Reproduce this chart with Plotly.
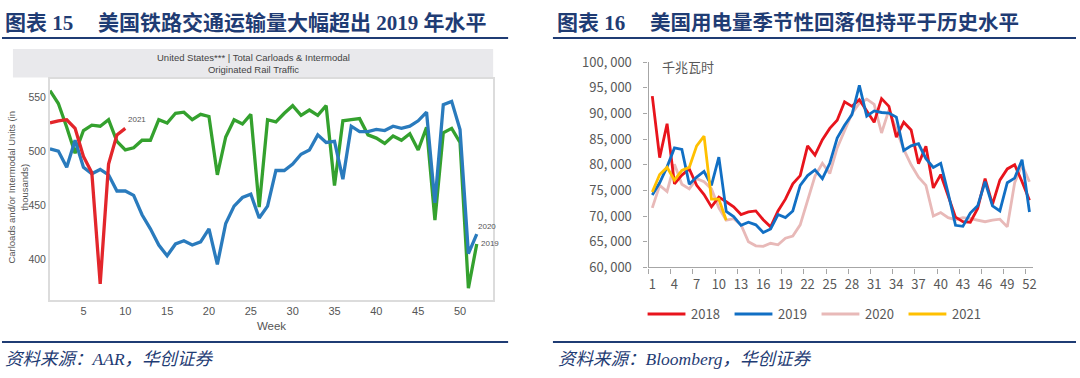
import plotly.graph_objects as go

# ---------------- data: left chart (AAR originated rail traffic, thousands) ----------------
rail_weeks = list(range(1, 53))
rail_2019 = [556, 544, 522, 498, 519, 524, 523, 529, 509, 501,
             503, 510, 510, 529, 526, 535, 536, 529, 534, 532,
             478, 513, 529, 525, 534, 448, 529, 527, 535, 542,
             533, 538, 533, 542, 468, 528, 529, 530, 515, 512,
             507, 514, 510, 516, 501, 522, 436, 517, 521, 508,
             373, 414]
rail_2020 = [502, 500, 485, 510, 485, 479, 483, 478, 463, 463,
             459, 441, 428, 413, 403, 414, 417, 413, 416, 428,
             395, 433, 449, 457, 460, 438, 449, 482, 482, 488,
             497, 501, 515, 508, 509, 474, 523, 518, 518, 520,
             519, 523, 521, 523, 528, 536, 452, 543, 546, 520,
             405, 423]
rail_weeks_2021 = list(range(1, 11))
rail_2021 = [526, 528, 529, 521, 495, 480, 377, 488, 515, 521]
rail_x_ticks = [5, 10, 15, 20, 25, 30, 35, 40, 45, 50]
rail_y_ticks = [400, 450, 500, 550]

# ---------------- data: right chart (US electricity output, GWh) ----------------
power_weeks = list(range(1, 53))
power_2018 = [93400, 81400, 88000, 76300, 78000, 79200, 76000, 74200, 71800, 73700,
              72800, 71800, 70300, 70800, 71000, 69300, 67900, 71000, 73300, 76300,
              77900, 83700, 81900, 84900, 87100, 88700, 92300, 91400, 92700, 90500,
              88300, 92900, 91400, 85400, 88300, 86800, 80200, 83600, 75500, 78100,
              74000, 69800, 68900, 68800, 71500, 77300, 72300, 77000, 79200, 80000,
              76700, 73100]
power_2019 = [74100, 76500, 79600, 83300, 83000, 76200, 77600, 78700, 76000, 81500,
              70900, 69900, 68200, 68800, 68300, 66800, 67500, 70300, 69700, 71000,
              76000, 77900, 79000, 77300, 80300, 85200, 87700, 89800, 95500, 89500,
              90500, 90200, 90100, 89300, 82800, 83700, 84100, 81200, 79500, 80300,
              74500, 68200, 68000, 70600, 72000, 76700, 72000, 71000, 76500, 77400,
              81000, 70800]
power_2020 = [71600, 76000, 74800, 80100, 76200, 75300, 77300, 76700, 75300, 71600,
              69200, 69500, 68300, 65000, 64200, 64100, 64700, 64400, 65700, 66100,
              68300, 73000, 77800, 80300, 78300, 83300, 86800, 90000, 92000, 92800,
              91800, 86200, 90700, 86800, 83000, 80000, 77600, 76000, 70000, 70700,
              69700, 69300, 69700, 69500, 69200, 68900, 69200, 69400, 67900, 76500,
              80000, 76700]
power_weeks_2021 = list(range(1, 12))
power_2021 = [74700, 78100, 79500, 77000, 78900, 79500, 83700, 85600, 73300, 73300, 69200]
power_x_ticks = list(range(1, 53, 3))
power_y_ticks = [60000, 65000, 70000, 75000, 80000, 85000, 90000, 95000, 100000]
power_names = ["2018", "2019", "2020", "2021"]

# ---------------- styling ----------------
W, H = 1080, 378
def px(x):
    return x / W
def py(y):
    return 1 - y / H

NAVY = "#1f3c74"
GREEN, BLUE_L, RED_L = "#34a12e", "#2a7bbd", "#e3262b"
C2018, C2019, C2020, C2021 = "#e8141c", "#116fc4", "#e8b9b8", "#ffc000"
GREY_TXT = "#595959"
NARROW = "Liberation Sans Narrow, Liberation Sans, Arial Narrow, sans-serif"
CJK = "Noto Sans CJK SC, Noto Sans, sans-serif"
TITLE_FONT = "Liberation Serif, Noto Sans CJK SC, serif"

fig = go.Figure()

# left chart traces
fig.add_trace(go.Scatter(x=rail_weeks, y=rail_2019, mode="lines",
                         line=dict(color=GREEN, width=3.3), xaxis="x", yaxis="y"))
fig.add_trace(go.Scatter(x=rail_weeks, y=rail_2020, mode="lines",
                         line=dict(color=BLUE_L, width=3.3), xaxis="x", yaxis="y"))
fig.add_trace(go.Scatter(x=rail_weeks_2021, y=rail_2021, mode="lines",
                         line=dict(color=RED_L, width=3.3), xaxis="x", yaxis="y"))

# right chart traces
power_series = [power_2018, power_2019, power_2020, power_2021]
power_xs = [power_weeks, power_weeks, power_weeks, power_weeks_2021]
power_colors = [C2018, C2019, C2020, C2021]
draw_order = [2, 0, 1, 3]
for i in draw_order:
    fig.add_trace(go.Scatter(x=power_xs[i], y=power_series[i], mode="lines", name=power_names[i],
                             line=dict(color=power_colors[i], width=2.8), xaxis="x2", yaxis="y2"))

fig.update_layout(
    width=W, height=H, margin=dict(l=0, r=0, t=0, b=0),
    paper_bgcolor="white", plot_bgcolor="white", showlegend=False,
    xaxis=dict(domain=[px(50), px(495)], range=[0.98, 53.96], anchor="y",
               tickvals=rail_x_ticks, ticks="", showgrid=False, zeroline=False,
               showline=True, mirror=True, linecolor="#dcdcdc", linewidth=1.5,
               tickfont=dict(family=NARROW, size=11, color="#555555"),
               title=dict(text="Week", font=dict(family=NARROW, size=11.5, color="#555555"), standoff=6)),
    yaxis=dict(domain=[py(305), py(73)], range=[362.4, 566.4], anchor="x",
               tickvals=rail_y_ticks, ticks="", showgrid=False, zeroline=False,
               showline=True, mirror=True, linecolor="#dcdcdc", linewidth=1.5,
               tickfont=dict(family=NARROW, size=10.5, color="#555555")),
    xaxis2=dict(domain=[px(651), px(1037)], range=[0.5, 52.5], anchor="y2",
                tickvals=power_x_ticks, ticks="", showgrid=False, zeroline=False,
                showline=True, linecolor="#a6a6a6", linewidth=1.3,
                minor=dict(tick0=0.5, dtick=3, ticks="outside", ticklen=5, tickcolor="#a6a6a6", tickwidth=1.3),
                ticklabelstandoff=5,
                tickfont=dict(family=CJK, size=13, color=GREY_TXT)),
    yaxis2=dict(domain=[py(271), py(55)], range=[60000, 100000], anchor="x2",
                tickvals=power_y_ticks,
                ticktext=[f"{v:,}".replace(",", ", ") for v in power_y_ticks],
                ticks="outside", ticklen=4, tickcolor="#a6a6a6", tickwidth=1.3,
                showgrid=False, zeroline=False, showline=True, linecolor="#a6a6a6", linewidth=1.3,
                ticklabelstandoff=9,
                tickfont=dict(family=CJK, size=13, color=GREY_TXT)),
)

shapes = []
# title rules (top and bottom)
for y in (29.5, 349.5):
    shapes.append(dict(type="line", xref="paper", yref="paper", x0=px(2), x1=px(510), y0=py(y), y1=py(y),
                       line=dict(color=NAVY, width=2)))
    shapes.append(dict(type="line", xref="paper", yref="paper", x0=px(555), x1=px(1080), y0=py(y), y1=py(y),
                       line=dict(color=NAVY, width=2)))
# grey header band of the left chart
shapes.append(dict(type="rect", xref="paper", yref="paper", x0=px(13), x1=px(495), y0=py(71), y1=py(41),
                   fillcolor="#e9e9ec", line=dict(width=0), layer="below"))

annotations = []
# titles
annotations.append(dict(xref="paper", yref="paper", x=px(3), y=py(14), xanchor="left", yanchor="middle",
                        text="图表 15", showarrow=False,
                        font=dict(family=TITLE_FONT, size=21, color=NAVY, weight="bold")))
annotations.append(dict(xref="paper", yref="paper", x=px(96), y=py(14), xanchor="left", yanchor="middle",
                        text="美国铁路交通运输量大幅超出 2019 年水平", showarrow=False,
                        font=dict(family=TITLE_FONT, size=21, color=NAVY, weight="bold")))
annotations.append(dict(xref="paper", yref="paper", x=px(557), y=py(14), xanchor="left", yanchor="middle",
                        text="图表 16", showarrow=False,
                        font=dict(family=TITLE_FONT, size=21, color=NAVY, weight="bold")))
annotations.append(dict(xref="paper", yref="paper", x=px(650), y=py(14), xanchor="left", yanchor="middle",
                        text="美国用电量季节性回落但持平于历史水平", showarrow=False,
                        font=dict(family=TITLE_FONT, size=20.5, color=NAVY, weight="bold")))
# sources
annotations.append(dict(xref="paper", yref="paper", x=px(3), y=py(367), xanchor="left", yanchor="middle",
                        text="资料来源：AAR，华创证券", showarrow=False,
                        font=dict(family=TITLE_FONT, size=17.5, color=NAVY, style="italic")))
annotations.append(dict(xref="paper", yref="paper", x=px(558), y=py(367), xanchor="left", yanchor="middle",
                        text="资料来源：Bloomberg，华创证券", showarrow=False,
                        font=dict(family=TITLE_FONT, size=17.5, color=NAVY, style="italic")))
# left header text
annotations.append(dict(xref="paper", yref="paper", x=px(254), y=py(56), xanchor="center", yanchor="middle",
                        text="United States*** | Total Carloads & Intermodal<br>Originated Rail Traffic",
                        showarrow=False, align="center",
                        font=dict(family=NARROW, size=9.5, color="#444444")))
# left y-axis title
annotations.append(dict(xref="paper", yref="paper", x=px(18), y=py(186), xanchor="center", yanchor="middle",
                        text="Carloads and/or Intermodal Units (in<br>thousands)", textangle=-90,
                        showarrow=False, align="center",
                        font=dict(family="Liberation Sans, Arial, sans-serif", size=9.5, color="#555555")))
# series end labels on left chart
annotations.append(dict(xref="x", yref="y", x=rail_weeks_2021[-1], y=rail_2021[-1], xanchor="left",
                        yanchor="middle", xshift=1, yshift=9, text="2021", showarrow=False,
                        font=dict(family=NARROW, size=8, color="#555555")))
annotations.append(dict(xref="x", yref="y", x=rail_weeks[-1], y=rail_2020[-1], xanchor="left",
                        yanchor="middle", xshift=-1, yshift=8, text="2020", showarrow=False,
                        font=dict(family=NARROW, size=8, color="#555555")))
annotations.append(dict(xref="x", yref="y", x=rail_weeks[-1], y=rail_2019[-1], xanchor="left",
                        yanchor="middle", xshift=2, yshift=0, text="2019", showarrow=False,
                        font=dict(family=NARROW, size=8, color="#555555")))
# unit label on right chart
annotations.append(dict(xref="paper", yref="paper", x=px(662), y=py(60), xanchor="left", yanchor="middle",
                        text="千兆瓦时", showarrow=False, font=dict(family=CJK, size=13, color=GREY_TXT)))

# manual legend for right chart
leg_x0, leg_step, leg_y, leg_len = 650, 87.3, 320, 38
for k, (name, col) in enumerate(zip(power_names, power_colors)):
    x0 = leg_x0 + k * leg_step
    shapes.append(dict(type="line", xref="paper", yref="paper", x0=px(x0), x1=px(x0 + leg_len),
                       y0=py(leg_y), y1=py(leg_y), line=dict(color=col, width=3)))
    annotations.append(dict(xref="paper", yref="paper", x=px(x0 + leg_len + 4), y=py(leg_y),
                            xanchor="left", yanchor="middle", text=name, showarrow=False,
                            font=dict(family=CJK, size=13, color=GREY_TXT)))

fig.update_layout(shapes=shapes, annotations=annotations)

fig.write_html("out.html", config={"displayModeBar": False},
               post_script="document.body.style.margin='0';")
